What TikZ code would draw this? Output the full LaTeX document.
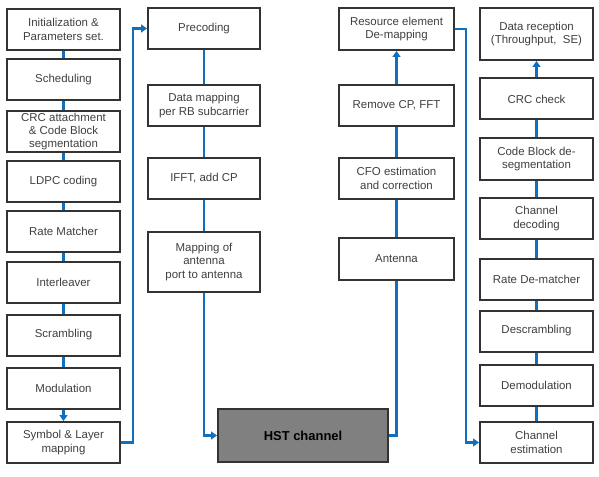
\documentclass[tikz,border=0pt]{standalone}
\usepackage{fontspec}
\setmainfont{Liberation Sans}
\usetikzlibrary{arrows.meta}

\definecolor{flowblue}{RGB}{16,112,192}
\definecolor{boxline}{RGB}{51,51,51}
\definecolor{boxtext}{RGB}{64,64,64}
\definecolor{hstgray}{RGB}{128,128,128}

\begin{document}
\begin{tikzpicture}[x=1bp,y=-1bp,
        blk/.style={draw=boxline,line width=2bp,fill=white,text=boxtext,align=center,
            minimum width=113bp,minimum height=41bp,inner sep=0bp,
            font=\fontsize{11.5}{13.5}\selectfont},
        flow/.style={draw=flowblue,line width=2.5bp},
        tip/.style={-{Triangle[length=6bp,width=8bp]}}]
        \useasboundingbox (0,0) rectangle (599,477);

        % transmitter chain
        \node[blk] (init) at (63.5,29.5) {Initialization \&\\Parameters set.};
        \node[blk] (sched) at (63.5,79.5) {Scheduling};
        \node[blk] (crcatt) at (63.5,131.5) {CRC attachment\\\& Code Block\\segmentation};
        \node[blk] (ldpc) at (63.5,181.5) {LDPC coding};
        \node[blk] (ratem) at (63.5,231.5) {Rate Matcher};
        \node[blk] (interl) at (63.5,282.5) {Interleaver};
        \node[blk] (scram) at (63.5,335) {Scrambling};
        \node[blk] (modul) at (63.5,388.5) {Modulation};
        \node[blk] (symb) at (63.5,442.5) {Symbol \& Layer\\mapping};

        \node[blk,minimum width=112bp] (precod) at (204,28.5) {Precoding};
        \node[blk,minimum width=112bp] (datamap) at (204,105.5) {Data mapping\\per RB subcarrier};
        \node[blk,minimum width=112bp] (ifft) at (204,178.5) {IFFT, add CP};
        \node[blk,minimum width=112bp,minimum height=60bp] (mapant) at (204,262) {Mapping of\\antenna\\port to antenna};

        % channel
        \node[blk,fill=hstgray,text=black,minimum width=170bp,minimum height=53bp,
            font=\fontsize{13}{15}\selectfont\bfseries] (hst) at (303,435.5) {HST channel};

        % receiver chain
        \node[blk,minimum width=115bp,minimum height=42bp] (redemap) at (396.5,29) {Resource element\\De-mapping};
        \node[blk,minimum width=115bp] (rmcp) at (396.5,105.5) {Remove CP, FFT};
        \node[blk,minimum width=115bp] (cfo) at (396.5,178.5) {CFO estimation\\and correction};
        \node[blk,minimum width=115bp,minimum height=42bp] (ant) at (396.5,259) {Antenna};

        \node[blk,minimum height=52bp] (datarx) at (536.5,34) {Data reception\\(Throughput,\ \ SE)};
        \node[blk] (crcchk) at (536.5,99) {CRC check};
        \node[blk,minimum height=42bp] (cbdeseg) at (536.5,159) {Code Block de-\\segmentation};
        \node[blk] (chdec) at (536.5,218.5) {Channel\\decoding};
        \node[blk] (ratedm) at (536.5,279) {Rate De-matcher};
        \node[blk] (descr) at (536.5,331) {Descrambling};
        \node[blk] (demod) at (536.5,385) {Demodulation};
        \node[blk] (chest) at (536.5,442.5) {Channel\\estimation};

        % connectors
        \draw[flow] (init) -- (sched);
        \draw[flow] (sched) -- (crcatt);
        \draw[flow] (crcatt) -- (ldpc);
        \draw[flow] (ldpc) -- (ratem);
        \draw[flow] (ratem) -- (interl);
        \draw[flow] (interl) -- (scram);
        \draw[flow] (scram) -- (modul);
        \draw[flow,tip] (modul) -- (symb);
        \draw[flow,tip] (symb.east) -- ++(12,0) |- (precod.west);

        \draw[flow] (precod) -- (datamap);
        \draw[flow] (datamap) -- (ifft);
        \draw[flow] (ifft) -- (mapant);
        \draw[flow,tip] (mapant.south) |- (hst.west);

        \draw[flow] (hst.east) -| (ant.south);
        \draw[flow] (ant) -- (cfo);
        \draw[flow] (cfo) -- (rmcp);
        \draw[flow,tip] (rmcp) -- (redemap);
        \draw[flow,tip] (redemap.east) -- ++(11,0) |- (chest.west);

        \draw[flow] (chest) -- (demod);
        \draw[flow] (demod) -- (descr);
        \draw[flow] (descr) -- (ratedm);
        \draw[flow] (ratedm) -- (chdec);
        \draw[flow] (chdec) -- (cbdeseg);
        \draw[flow] (cbdeseg) -- (crcchk);
        \draw[flow,tip] (crcchk) -- (datarx);
    \end{tikzpicture}
\end{document}
